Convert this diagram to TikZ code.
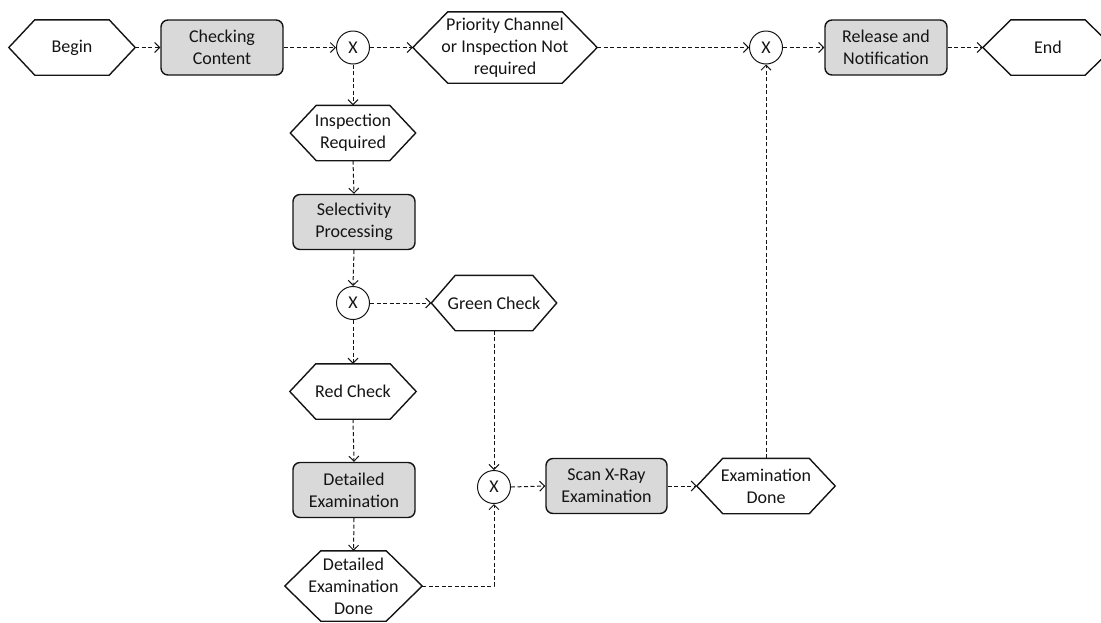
\documentclass[tikz,border=0pt]{standalone}
\usepackage{fontspec}
\setmainfont{Carlito}
\usetikzlibrary{arrows.meta,calc}
\definecolor{taskfill}{RGB}{217,217,217}
\definecolor{ink}{RGB}{20,20,20}
\begin{document}
\begin{tikzpicture}[x=1pt,y=-1pt,
  font=\fontsize{18}{22}\selectfont,
  every node/.style={inner sep=0pt, align=center, text=ink},
  task/.style={draw=ink, line width=1.4pt, rounded corners=7pt, fill=taskfill,
    minimum width=122pt, minimum height=55pt},
  event/.style={minimum width=#1, minimum height=55pt},
  event/.default=126pt,
  gate/.style={draw=ink, circle, line width=1pt, minimum size=33pt},
  hexline/.style={draw=ink, line width=1.4pt, line join=miter},
  flow/.style={draw=ink, line width=1pt, dash pattern=on 4pt off 2.5pt,
    -{Straight Barb[length=5pt,width=10pt,line width=1pt]}}]

\useasboundingbox (0,0) rectangle (1101,622);

% main row
\node[event] (begin) at (72,47.5) {Begin};
\node[task]  (cc)    at (222,47.5) {Checking\\Content};
\node[gate]  (x1)    at (353,47.5) {X};
\node[event=184pt, minimum height=71pt] (prio) at (505,47.5)
  {Priority Channel\\or Inspection Not\\required};
\node[gate]  (x2)    at (766,47.5) {X};
\node[task]  (rel)   at (886,47.5) {Release and\\Notification};
\node[event=130pt] (end) at (1048,47.5) {End};

% inspection branch
\node[event=125pt] (insp) at (353,133) {Inspection\\Required};
\node[task]  (sel)   at (354,222) {Selectivity\\Processing};
\node[gate]  (x3)    at (353,303) {X};
\node[event=125pt] (green) at (494,303) {Green Check};
\node[event] (red)   at (353,391.5) {Red Check};
\node[task]  (de)    at (354,490) {Detailed\\Examination};
\node[event=137pt, minimum height=70pt] (ded) at (353.5,586)
  {Detailed\\Examination\\Done};
\node[gate]  (x4)    at (494,487) {X};
\node[task, minimum width=121pt] (scan) at (606.5,486) {Scan X-Ray\\Examination};
\node[event=138pt] (exd) at (766,486) {Examination\\Done};

% hexagonal outlines of the events
\foreach \nm/\d in {begin/26pt, prio/35pt, end/28pt, insp/26pt, green/24pt,
                    red/26pt, ded/36pt, exd/26pt}{
  \draw[hexline] (\nm.west) -- ([xshift=\d]\nm.north west)
    -- ([xshift=-\d]\nm.north east) -- (\nm.east)
    -- ([xshift=-\d]\nm.south east) -- ([xshift=\d]\nm.south west) -- cycle;
}

% sequence flows
\draw[flow] (begin.east) -- (cc.west);
\draw[flow] (cc.east) -- (x1.west);
\draw[flow] (x1.east) -- (prio.west);
\draw[flow] (prio.east) -- (x2.west);
\draw[flow] (x2.east) -- (rel.west);
\draw[flow] (rel.east) -- (end.west);
\draw[flow] (x1.south) -- (insp.north);
\draw[flow] (insp.south) -- (sel.north);
\draw[flow] (sel.south) -- (x3.north);
\draw[flow] (x3.east) -- (green.west);
\draw[flow] (x3.south) -- (red.north);
\draw[flow] (red.south) -- (de.north);
\draw[flow] (de.south) -- (ded.north);
\draw[flow] (green.south) -- (x4.north);
\draw[flow] (ded.east) -| (x4.south);
\draw[flow] (x4.east) -- (scan.west);
\draw[flow] (scan.east) -- (exd.west);
\draw[flow] (exd.north) -- (x2.south);
\end{tikzpicture}
\end{document}
